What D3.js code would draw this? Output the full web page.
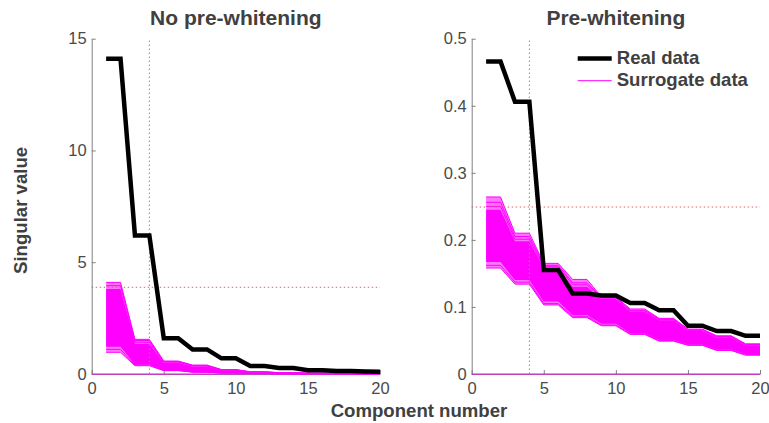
<!DOCTYPE html>
<html>
<head>
<meta charset="utf-8">
<script src="https://cdn.jsdelivr.net/npm/d3@7"></script>
<style>
  body { margin: 0; background: #fff; }
  svg { display: block; font-family: "Liberation Sans", Arial, sans-serif; }
  .axis path, .axis line { stroke: #808080; }
  .axis text { fill: #4a4a4a; font-size: 16.5px; }
</style>
</head>
<body>
<div id="chart"></div>
<script>

// component numbers 1..20
var components = [1,2,3,4,5,6,7,8,9,10,11,12,13,14,15,16,17,18,19,20];
var xTicks = [0, 5, 10, 15, 20];

// ---- No pre-whitening ----
var realLeft = [14.1,14.1,6.2,6.2,1.6,1.6,1.1,1.1,0.7,0.7,0.36,0.36,0.27,0.27,0.17,0.17,0.13,0.13,0.11,0.1];
var surrHighLeft = [4.1,4.1,1.55,1.55,0.58,0.58,0.4,0.4,0.2,0.2,0.1,0.1,0.06,0.06,0.04,0.04,0.03,0.03,0.02,0.02];
var surrLowLeft  = [0.97,0.97,0.37,0.37,0.15,0.15,0.08,0.08,0.04,0.04,0.02,0.02,0.01,0.01,0.01,0.01,0.005,0.005,0,0];
var coreHighLeft = [3.8,3.8,1.35,1.35,0.5,0.5,0.33,0.33,0.17,0.17,0.08,0.08,0.05,0.05,0.035,0.035,0.025,0.025,0.018,0.018];
var coreLowLeft  = [1.22,1.22,0.42,0.42,0.17,0.17,0.09,0.09,0.045,0.045,0.022,0.022,0.012,0.012,0.01,0.01,0.006,0.006,0.002,0.002];
var extraLeft = [
  [3.95,3.95,1.5,1.5,0.56,0.56,0.38,0.38,0.19,0.19,0.095,0.095,0.058,0.058,0.039,0.039,0.028,0.028,0.02,0.02],
  [3.6,3.6,1.42,1.42,0.53,0.53,0.36,0.36,0.18,0.18,0.09,0.09,0.055,0.055,0.037,0.037,0.027,0.027,0.019,0.019],
  [1.1,1.1,0.4,0.4,0.16,0.16,0.085,0.085,0.042,0.042,0.021,0.021,0.011,0.011,0.009,0.009,0.005,0.005,0.001,0.001],
  [1.3,1.3,0.45,0.45,0.19,0.19,0.1,0.1,0.05,0.05,0.025,0.025,0.014,0.014,0.011,0.011,0.007,0.007,0.003,0.003]
];
var yTicksLeft = [0, 5, 10, 15];
var cutoffLeft = 3.88;

// ---- Pre-whitening ----
var realRight = [0.466,0.466,0.406,0.406,0.155,0.155,0.12,0.12,0.117,0.117,0.106,0.106,0.095,0.095,0.072,0.072,0.064,0.064,0.057,0.057];
var surrHighRight = [0.264,0.264,0.21,0.21,0.165,0.165,0.141,0.141,0.115,0.115,0.097,0.097,0.083,0.083,0.067,0.067,0.057,0.057,0.045,0.045];
var surrLowRight  = [0.158,0.158,0.134,0.134,0.103,0.103,0.084,0.084,0.072,0.072,0.059,0.059,0.049,0.049,0.043,0.043,0.035,0.035,0.028,0.028];
var coreHighRight = [0.245,0.245,0.198,0.198,0.158,0.158,0.13,0.13,0.112,0.112,0.093,0.093,0.08,0.08,0.064,0.064,0.054,0.054,0.043,0.043];
var coreLowRight  = [0.167,0.167,0.14,0.14,0.108,0.108,0.088,0.088,0.075,0.075,0.061,0.061,0.051,0.051,0.044,0.044,0.037,0.037,0.03,0.03];
var extraRight = [
  [0.256,0.256,0.205,0.205,0.162,0.162,0.136,0.136,0.114,0.114,0.095,0.095,0.082,0.082,0.066,0.066,0.056,0.056,0.044,0.044],
  [0.25,0.25,0.201,0.201,0.16,0.16,0.133,0.133,0.113,0.113,0.094,0.094,0.081,0.081,0.065,0.065,0.055,0.055,0.044,0.044],
  [0.162,0.162,0.137,0.137,0.105,0.105,0.086,0.086,0.073,0.073,0.06,0.06,0.05,0.05,0.043,0.043,0.036,0.036,0.029,0.029],
  [0.175,0.175,0.143,0.143,0.11,0.11,0.09,0.09,0.077,0.077,0.062,0.062,0.052,0.052,0.045,0.045,0.038,0.038,0.031,0.031]
];
var yTicksRight = [0, 0.1, 0.2, 0.3, 0.4, 0.5];
var cutoffRight = 0.249;

var nComponents = 4; // green dotted marker

var width = 769, height = 423,
    plotW = 288.3, plotH = 335.3;

var svg = d3.select("#chart").append("svg")
    .attr("width", width)
    .attr("height", height);

var magenta = "#ff00ff";

function panel(left, top, o) {
  var g = svg.append("g").attr("transform", "translate(" + left + "," + top + ")");
  var x = d3.scaleLinear().domain([0, 20]).range([0, plotW]);
  var y = d3.scaleLinear().domain([0, o.yMax]).range([plotH, 0]);

  var line = d3.line()
    .x(function(d, i) { return x(components[i]); })
    .y(function(d) { return y(d); });
  var band = d3.area()
    .x(function(d, i) { return x(components[i]); })
    .y0(function(d) { return y(d[0]); })
    .y1(function(d) { return y(d[1]); });

  // axes first, MATLAB style: inward ticks, no box
  g.append("g").attr("class", "x axis")
    .attr("transform", "translate(0," + plotH + ")")
    .call(d3.axisBottom(x).tickValues(xTicks).tickSizeInner(-4).tickSizeOuter(0).tickPadding(8));
  g.append("g").attr("class", "y axis")
    .call(d3.axisLeft(y).tickValues(o.yTicks).tickSizeInner(-4).tickSizeOuter(0).tickPadding(5)
      .tickFormat(function(d) { return d === 0 ? "0" : o.fmt(d); }));

  // surrogate band
  g.append("path")
    .datum(o.low.map(function(v, i) { return [v, o.high[i]]; }))
    .attr("d", band)
    .attr("fill", magenta).attr("fill-opacity", 0.55);
  g.append("path")
    .datum(o.coreLow.map(function(v, i) { return [v, o.coreHigh[i]]; }))
    .attr("d", band)
    .attr("fill", magenta);
  [o.high, o.low].concat(o.extra).forEach(function(s) {
    g.append("path").datum(s).attr("d", line)
      .attr("fill", "none").attr("stroke", magenta).attr("stroke-width", 1);
  });

  // baseline surrogate trace along zero
  g.append("line")
    .attr("x1", x(0)).attr("x2", x(20))
    .attr("y1", y(0)).attr("y2", y(0))
    .attr("stroke", magenta).attr("stroke-width", 1.2);

  // thresholds
  g.append("line")
    .attr("x1", x(0)).attr("x2", x(20))
    .attr("y1", y(o.cutoff)).attr("y2", y(o.cutoff))
    .attr("stroke", "#e06060").attr("stroke-width", 1)
    .attr("stroke-dasharray", "1.5,2.5");
  g.append("line")
    .attr("x1", x(nComponents)).attr("x2", x(nComponents))
    .attr("y1", y(0)).attr("y2", y(o.yMax))
    .attr("stroke", "#40c040").attr("stroke-width", 1)
    .attr("stroke-dasharray", "1.5,2.5");

  // real data
  g.append("path").datum(o.real).attr("d", line)
    .attr("fill", "none").attr("stroke", "#000").attr("stroke-width", 4.5)
    .attr("stroke-linejoin", "miter");

  g.append("text")
    .attr("x", plotW / 2).attr("y", -13.7)
    .attr("text-anchor", "middle")
    .attr("font-size", "21px").attr("font-weight", "bold")
    .attr("fill", "#404040")
    .text(o.title);

  return g;
}

var left = panel(91.7, 38.7, {
  yMax: 15, yTicks: yTicksLeft, fmt: d3.format("d"),
  real: realLeft, high: surrHighLeft, low: surrLowLeft,
  coreHigh: coreHighLeft, coreLow: coreLowLeft, extra: extraLeft,
  cutoff: cutoffLeft, title: "No pre-whitening"
});

var right = panel(471.7, 38.7, {
  yMax: 0.5, yTicks: yTicksRight, fmt: d3.format(".1f"),
  real: realRight, high: surrHighRight, low: surrLowRight,
  coreHigh: coreHighRight, coreLow: coreLowRight, extra: extraRight,
  cutoff: cutoffRight, title: "Pre-whitening"
});

// legend (in right panel)
var legend = right.append("g").attr("transform", "translate(106,0)");
legend.append("line").attr("x1", 0).attr("x2", 34).attr("y1", 19.8).attr("y2", 19.8)
  .attr("stroke", "#000").attr("stroke-width", 4.5);
legend.append("line").attr("x1", 0).attr("x2", 34).attr("y1", 42).attr("y2", 42)
  .attr("stroke", magenta).attr("stroke-width", 1);
legend.selectAll("text.leg")
  .data(["Real data", "Surrogate data"])
  .enter().append("text")
  .attr("class", "leg")
  .attr("x", 39)
  .attr("y", function(d, i) { return i === 0 ? 25.8 : 47.3; })
  .attr("font-size", "18.6px").attr("font-weight", "bold")
  .attr("fill", "#404040")
  .text(function(d) { return d; });

// shared axis labels
svg.append("text")
  .attr("transform", "translate(26.7,210.4) rotate(-90)")
  .attr("text-anchor", "middle")
  .attr("font-size", "18.6px").attr("font-weight", "bold")
  .attr("fill", "#404040")
  .text("Singular value");

svg.append("text")
  .attr("x", 419).attr("y", 416.5)
  .attr("text-anchor", "middle")
  .attr("font-size", "18.6px").attr("font-weight", "bold")
  .attr("fill", "#404040")
  .text("Component number");

</script>
</body>
</html>
